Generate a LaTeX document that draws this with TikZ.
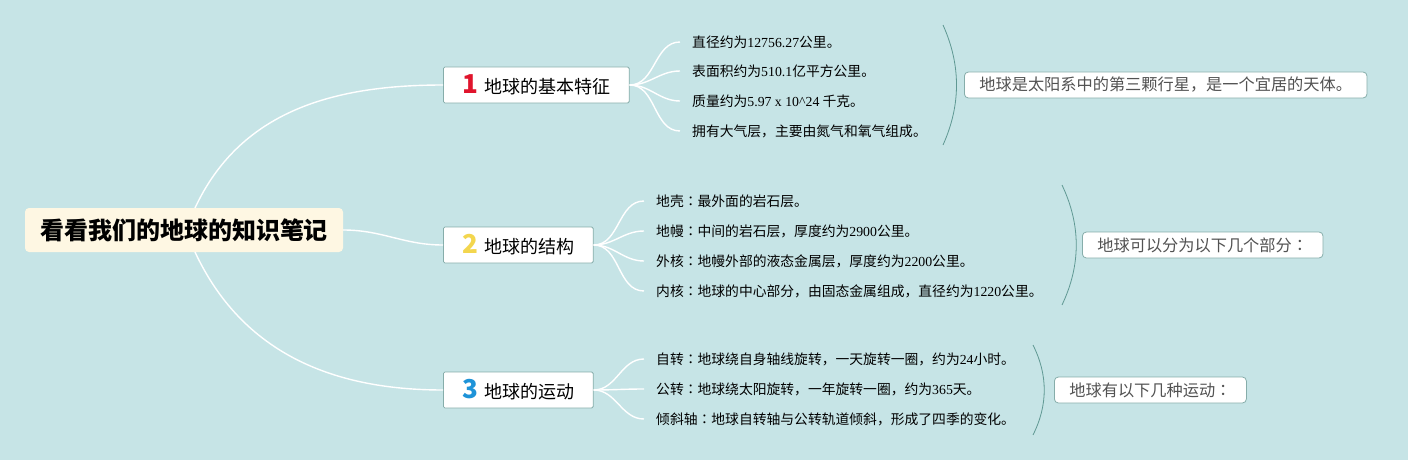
\documentclass[tikz,border=0pt]{standalone}
\usepackage{fontspec}
\setmainfont{Liberation Serif}
\newfontfamily\cjk{Noto Sans CJK SC}
\newfontfamily\cjktc{Noto Sans CJK TC}
\newcommand\lat[1]{{\rmfamily #1}}
\newcommand\mh{{\cjktc ：}}
\definecolor{bgcol}{HTML}{C6E4E6}
\definecolor{rootcol}{HTML}{FEF7E3}
\definecolor{edgecol}{HTML}{86ADAA}
\definecolor{bracecol}{HTML}{5F9893}
\definecolor{onecol}{HTML}{E0142C}
\definecolor{twocol}{HTML}{F3D64E}
\definecolor{threecol}{HTML}{1E93D8}
\tikzset{
  rootbox/.style={fill=rootcol,rounded corners=4pt,minimum height=44pt,inner xsep=15pt,font=\cjk\fontsize{24}{24}\selectfont\bfseries},
  topic/.style={draw=edgecol,line width=0.8pt,fill=white,rounded corners=1.5pt,minimum height=36pt,inner xsep=19pt,font=\cjk\fontsize{18}{18}\selectfont,anchor=west},
  leaf/.style={anchor=west,inner xsep=12pt,inner ysep=2pt,font=\cjk\fontsize{13.8}{14}\selectfont},
  summ/.style={draw=edgecol,line width=0.8pt,fill=white,rounded corners=4pt,minimum height=26pt,inner xsep=15pt,anchor=west,text=black!68,font=\cjk\fontsize{16.2}{16}\selectfont},
  wire/.style={white,line width=1.4pt},
  brace/.style={bracecol,line width=0.8pt}
}
\newcommand\numb[2]{{\fontsize{26}{26}\selectfont\bfseries\color{#1}#2}\hspace{6pt}}
\begin{document}
\begin{tikzpicture}[x=1pt,y=-1pt]
%背景
\fill[bgcol] (0,0) rectangle (1408,460);
%中心
\node[rootbox] (root) at (184,230) {看看我们的地球的知识笔记};
\coordinate (rtop) at (195,208);
\coordinate (rbot) at (195,252);
%主题
\node[topic] (t1) at (443,85) {\numb{onecol}{1}地球的基本特征};
\node[topic] (t2) at (443,245) {\numb{twocol}{2}地球的结构};
\node[topic] (t3) at (443,390) {\numb{threecol}{3}地球的运动};
\draw[wire] (rtop) to[out=65,in=180] (t1.west);
\draw[wire] (root.east) to[out=0,in=180] (t2.west);
\draw[wire] (rbot) to[out=-65,in=180] (t3.west);
%第一组
\node[leaf] (a1) at (680,42) {直径约为\lat{12756.27}公里。};
\node[leaf] (a2) at (680,71) {表面积约为\lat{510.1}亿平方公里。};
\node[leaf] (a3) at (680,101) {质量约为\lat{5.97 x 10\^{}24} 千克。};
\node[leaf] (a4) at (680,131) {拥有大气层，主要由氮气和氧气组成。};
\foreach \n in {a1,a2,a3,a4}
  \draw[wire] (t1.east) to[out=0,in=180] (\n.west);
%第二组
\node[leaf] (b1) at (644,201) {地壳\mh 最外面的岩石层。};
\node[leaf] (b2) at (644,231) {地幔\mh 中间的岩石层，厚度约为\lat{2900}公里。};
\node[leaf] (b3) at (644,261) {外核\mh 地幔外部的液态金属层，厚度约为\lat{2200}公里。};
\node[leaf] (b4) at (644,291) {内核\mh 地球的中心部分，由固态金属组成，直径约为\lat{1220}公里。};
\foreach \n in {b1,b2,b3,b4}
  \draw[wire] (t2.east) to[out=0,in=180] (\n.west);
%第三组
\node[leaf] (c1) at (644,359) {自转\mh 地球绕自身轴线旋转，一天旋转一圈，约为\lat{24}小时。};
\node[leaf] (c2) at (644,389) {公转\mh 地球绕太阳旋转，一年旋转一圈，约为\lat{365}天。};
\node[leaf] (c3) at (644,419) {倾斜轴\mh 地球自转轴与公转轨道倾斜，形成了四季的变化。};
\foreach \n in {c1,c2,c3}
  \draw[wire] (t3.east) to[out=0,in=180] (\n.west);
%概括
\draw[brace] (943,25) .. controls (961,65) and (961,105) .. (943,145);
\draw[brace] (1062,185) .. controls (1081,225) and (1081,265) .. (1062,305);
\draw[brace] (1033,345) .. controls (1048,375) and (1048,405) .. (1033,435);
\node[summ] (s1) at (964,85) {地球是太阳系中的第三颗行星，是一个宜居的天体。};
\node[summ] (s2) at (1082,245) {地球可以分为以下几个部分\mh};
\node[summ] (s3) at (1054,390) {地球有以下几种运动\mh};
\end{tikzpicture}
\end{document}
